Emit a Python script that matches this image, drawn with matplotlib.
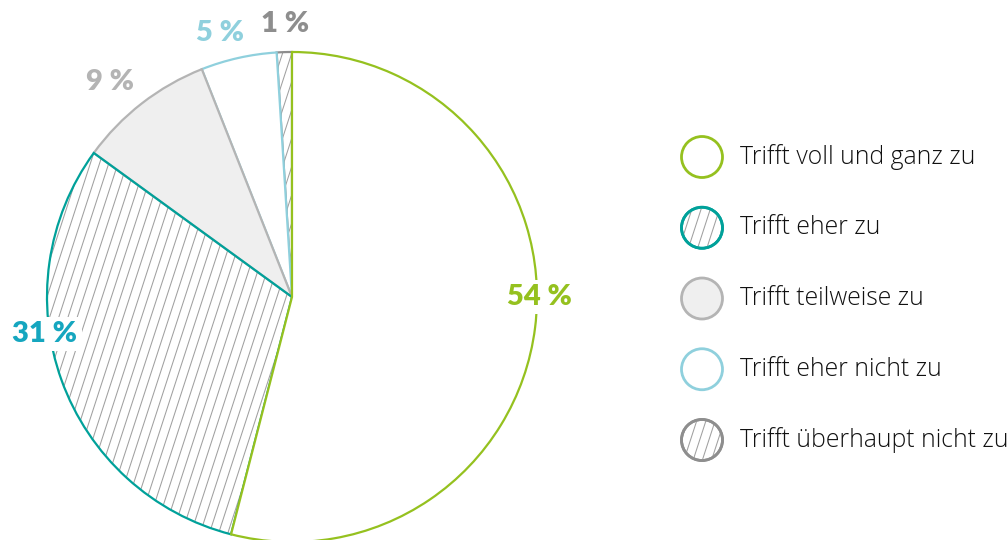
import numpy as np
import matplotlib
matplotlib.use("Agg")
import matplotlib.pyplot as plt
from matplotlib.patches import Circle
from matplotlib.collections import LineCollection

# ---- data ----
categories = ["Trifft voll und ganz zu", "Trifft eher zu", "Trifft teilweise zu",
              "Trifft eher nicht zu", "Trifft überhaupt nicht zu"]
values = [54, 31, 9, 5, 1]
value_labels = ["54 %", "31 %", "9 %", "5 %", "1 %"]

# ---- style ----
edge_colors = ["#95C11F", "#00A19A", "#B4B4B4", "#8FD0DD", "#8E8E8E"]
face_colors = ["white", "none", "#EFEFEF", "white", "none"]
hatched = [False, True, False, False, True]
label_colors = ["#95C11F", "#15A6BF", "#B4B4B4", "#8FD0DD", "#8E8E8E"]
# label positions in image pixels (x, y from top)
label_pos = [(539, 297), (45, 334), (110, 82), (220, 33), (285, 24)]

W, H = 1008, 540
fig = plt.figure(figsize=(W / 100, H / 100), dpi=100)
ax = fig.add_axes([0, 0, 1, 1])

cx, cy, R = 292, H - 297, 245

wedges, _ = ax.pie(values, center=(cx, cy), radius=R, startangle=90,
                   counterclock=False, frame=True)
ax.set_xlim(0, W)
ax.set_ylim(0, H)
ax.set_aspect("equal")
ax.axis("off")

ang = np.deg2rad(72)


def hatch(patch, zorder):
    segs = []
    for c in np.arange(-400, W + 400, 9.2):
        segs.append([(c, 0), (c + H / np.tan(ang), H)])
    lc = LineCollection(segs, colors="#A0A0A0", linewidths=0.75, zorder=zorder)
    ax.add_collection(lc)
    lc.set_clip_path(patch)


n = len(values)
for i, w in enumerate(wedges):
    z = 2 + (n - i)
    w.set_facecolor(face_colors[i])
    w.set_edgecolor(edge_colors[i])
    w.set_linewidth(1.6)
    w.set_zorder(z)
    if hatched[i]:
        hatch(w, z - 0.5)

for i, (x, y) in enumerate(label_pos):
    ax.text(x, H - y, value_labels[i], ha="center", va="center",
            fontsize=21, fontweight="heavy", color=label_colors[i],
            family=["Lato", "DejaVu Sans"], zorder=20,
            bbox=dict(boxstyle="square,pad=0.15", fc="white", ec="none"))

# ---- legend ----
lx, ly0, dy, lr = 702, 157, 70.75, 20.5
for i, cat in enumerate(categories):
    y = H - (ly0 + i * dy)
    fc = face_colors[i] if face_colors[i] != "none" else "white"
    circ = Circle((lx, y), lr, facecolor=fc, edgecolor=edge_colors[i],
                  linewidth=2.0, zorder=10)
    ax.add_patch(circ)
    if hatched[i]:
        hatch(circ, 10.5)
        circ2 = Circle((lx, y), lr, facecolor="none", edgecolor=edge_colors[i],
                       linewidth=2.0, zorder=11)
        ax.add_patch(circ2)
    ax.text(740, y, cat, ha="left", va="center", fontsize=17.8,
            fontweight="light", color="#111111",
            family=["Open Sans", "DejaVu Sans"], zorder=12)

fig.savefig("out.png", dpi=100, facecolor="white")
